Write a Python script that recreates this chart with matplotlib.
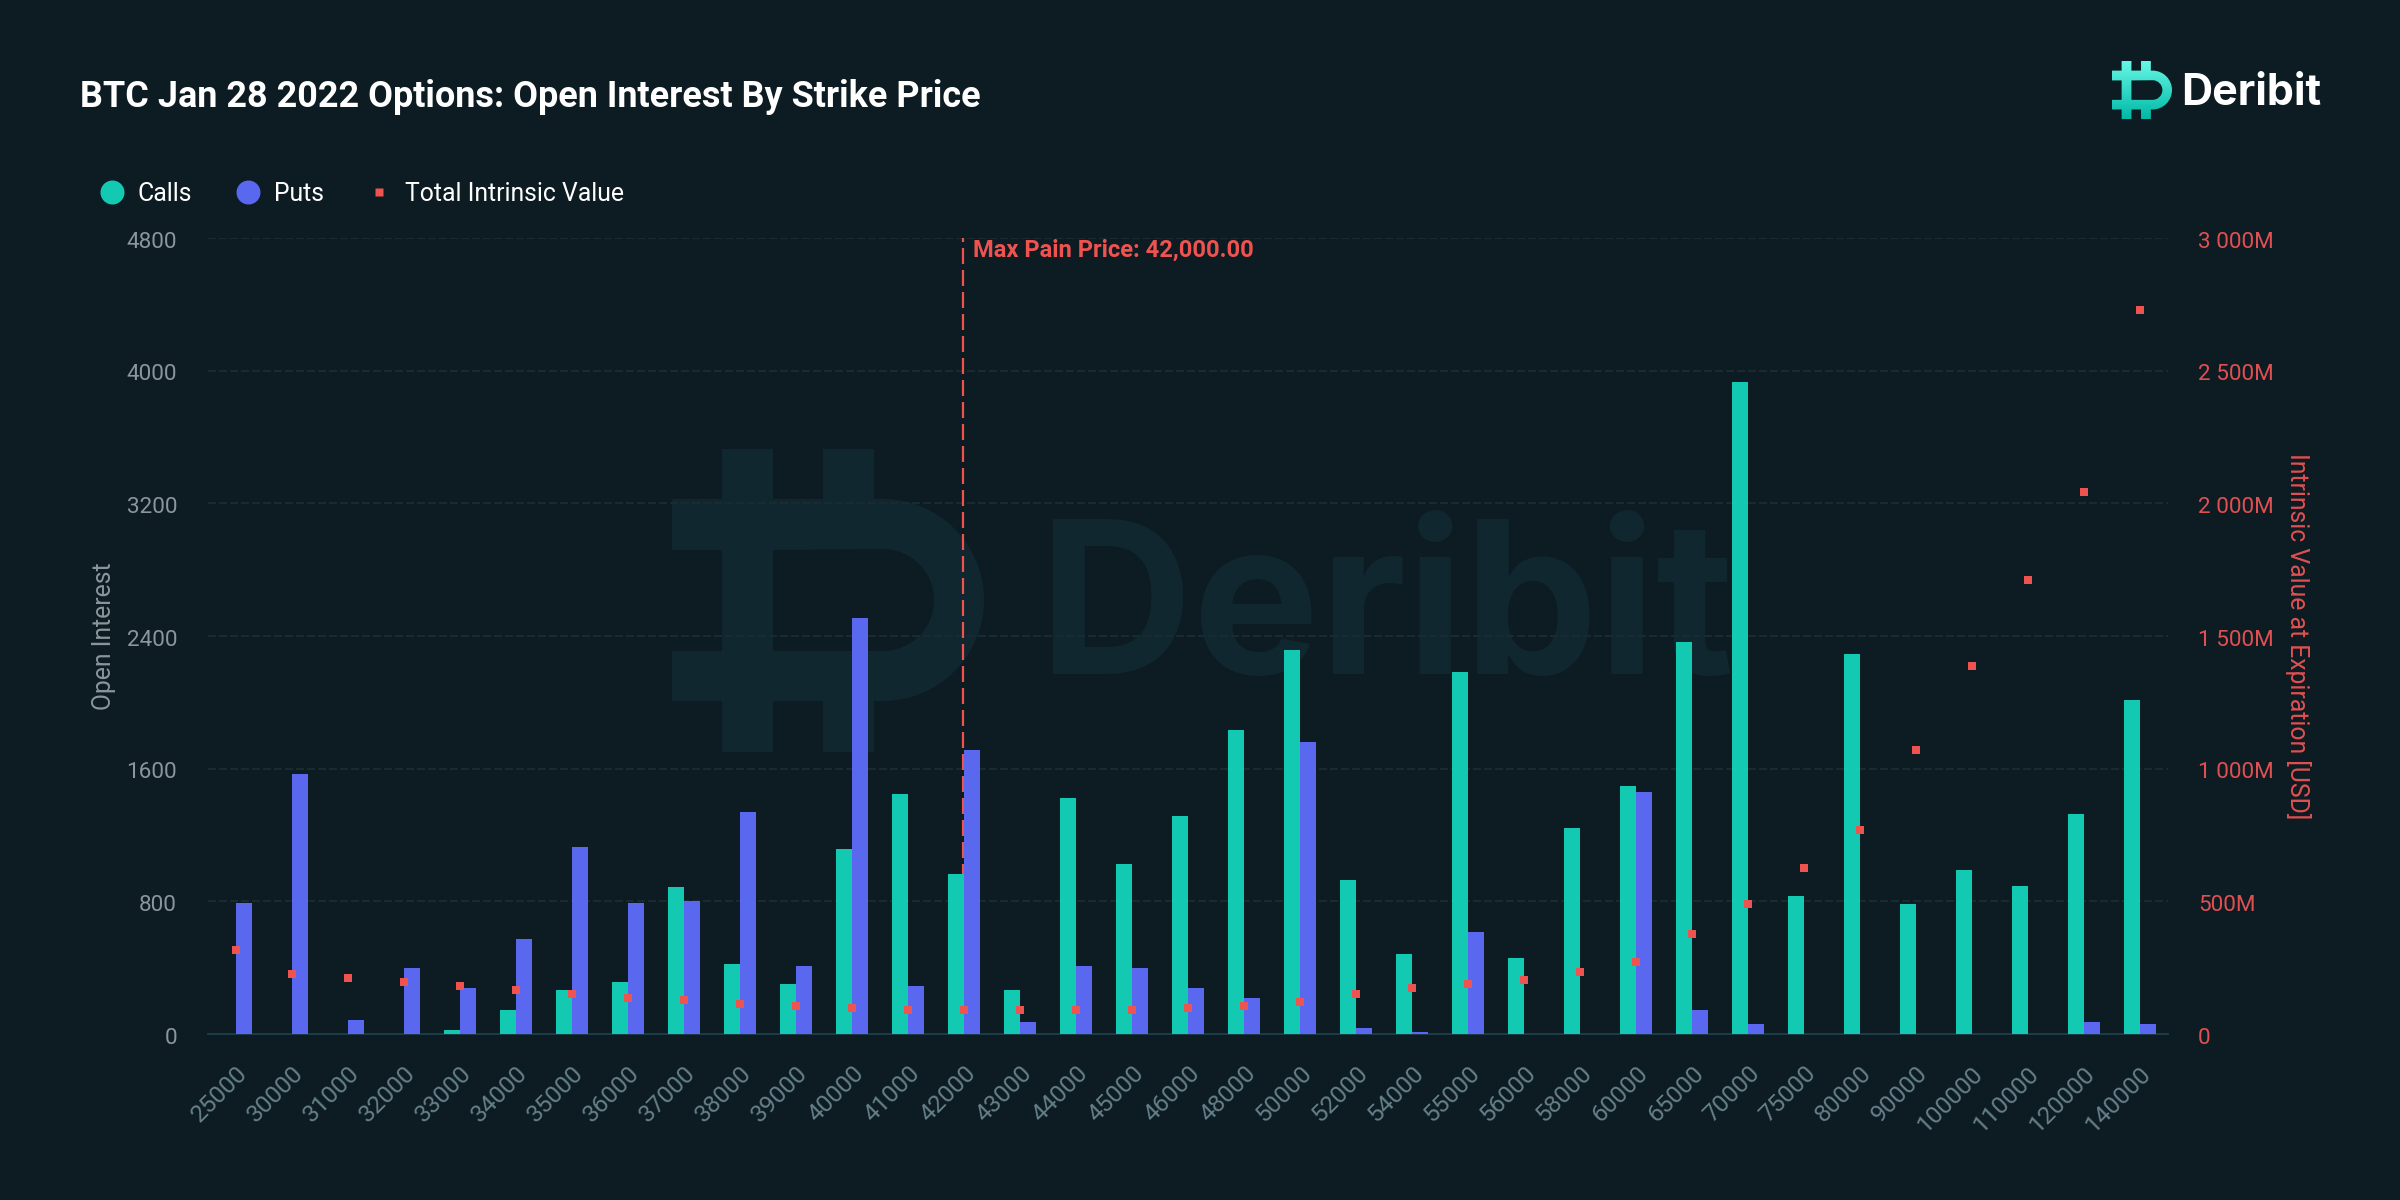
import numpy as np
import matplotlib
matplotlib.use("Agg")
import matplotlib.pyplot as plt
from matplotlib.path import Path
from matplotlib.patches import PathPatch
from matplotlib.lines import Line2D
from matplotlib.colors import LinearSegmentedColormap
from matplotlib.transforms import ScaledTranslation

strikes = ["25000","30000","31000","32000","33000","34000","35000","36000","37000","38000","39000","40000","41000","42000","43000","44000","45000","46000","48000","50000","52000","54000","55000","56000","58000","60000","65000","70000","75000","80000","90000","100000","110000","120000","140000"]
calls = [0,0,0,0,24,145,267,315,885,424,303,1117,1447,965,265,1423,1025,1315,1833,2316,929,482,2183,458,1242,1495,2364,3932,832,2291,784,989,892,1327,2014]
puts = [788,1569,85,400,279,570,1126,788,800,1338,412,2509,289,1713,72,410,398,277,217,1761,36,12,615,0,0,1459,145,60,0,0,0,0,0,72,60]
intrinsic = [317,226,211,196,181,166,151,136,128,113,106,98,90,90,90,90,90,98,105,120,151,173,188,203,234,271,377,490,626,769,1070,1387,1711,2043,2729]
oi_ticks = [0,800,1600,2400,3200,4000,4800]
iv_ticks = [0,500,1000,1500,2000,2500,3000]
iv_labels = ["0","500M","1 000M","1 500M","2 000M","2 500M","3 000M"]
max_pain_strike = "42000"

BG = "#0d1b22"; CALL = "#14c9b2"; PUT = "#5a67ef"; RED = "#ef5350"
GRID = "#1a2a31"; AXIS = "#1d3a47"; TICK = "#8a969c"; XTICK = "#66808a"; RTICK = "#e05052"; MARK = "#102730"

plt.rcParams['lines.scale_dashes'] = False
plt.rcParams['font.family'] = ['Roboto', 'DejaVu Sans']
PX = 72 / 200
W, H = 2400, 1200

fig = plt.figure(figsize=(12, 6), dpi=200, facecolor=BG)

# decoration layer in pixel coordinates
deco = fig.add_axes([0, 0, 1, 1], zorder=0)
deco.axis("off")

def logo_path(ox, oy, s):
    k = 0.5523
    def P(x, y):
        return (ox + (x - 672) * s, oy + (y - 449) * s)
    r, ri = 101, 51
    cx, cy = 883, 600
    outer = [(722,449),(773,449),(773,499),(823,499),(823,449),(874,449),(874,499),(883,499)]
    v = [P(*p) for p in outer]
    c = [Path.MOVETO] + [Path.LINETO] * 7
    for pts in ([(cx+k*r,cy-r),(cx+r,cy-k*r),(cx+r,cy)], [(cx+r,cy+k*r),(cx+k*r,cy+r),(cx,cy+r)]):
        v += [P(*p) for p in pts]; c += [Path.CURVE4] * 3
    rest = [(874,701),(874,752),(823,752),(823,701),(773,701),(773,752),(722,752),(722,701),(672,701),(672,651),(722,651),(722,550),(672,550),(672,499),(722,499),(722,449)]
    v += [P(*p) for p in rest]; c += [Path.LINETO] * (len(rest) - 1) + [Path.CLOSEPOLY]
    v += [P(773,550), P(773,651), P(883,651)]; c += [Path.MOVETO, Path.LINETO, Path.LINETO]
    for pts in ([(cx+k*ri,cy+ri),(cx+ri,cy+k*ri),(cx+ri,cy)], [(cx+ri,cy-k*ri),(cx+k*ri,cy-ri),(cx,cy-ri)]):
        v += [P(*p) for p in pts]; c += [Path.CURVE4] * 3
    v += [P(773,550)]; c += [Path.CLOSEPOLY]
    return Path(v, c)

deco.add_patch(PathPatch(logo_path(672, 449, 1.0), fc=MARK, ec="none"))
deco.text(1039, 674, "Deribit", family="Inter", weight="bold", fontsize=213 * PX, color=MARK, ha="left", va="baseline")

small = logo_path(2112, 61, 60 / 312)
grad = LinearSegmentedColormap.from_list("g", ["#66f7e6", "#00b9a6"])
im = deco.imshow(np.linspace(0, 1, 64).reshape(-1, 1), cmap=grad, extent=(2112, 2172, 119, 61), aspect="auto")
clip = PathPatch(small, transform=deco.transData, fc="none", ec="none")
deco.add_patch(clip)
im.set_clip_path(clip)
deco.text(2181, 105, "Deribit", family="Inter", weight="bold", fontsize=43 * PX, color="white", ha="left", va="baseline")
deco.set_xlim(0, W); deco.set_ylim(H, 0)

# main axes
L, R, T, B = 208, 2168, 238, 1034
ax = fig.add_axes([L / W, 1 - B / H, (R - L) / W, (B - T) / H], zorder=1)
ax.patch.set_alpha(0)
x = np.arange(len(strikes))
bw = 16 / 56
ax.bar(x - bw / 2, calls, bw, color=CALL, zorder=3, label="Calls")
ax.bar(x + bw / 2, puts, bw, color=PUT, zorder=3, label="Puts")
ax.set_xlim(-0.5, len(strikes) - 0.5)
ax.set_ylim(0, oi_ticks[-1])
ax.set_yticks(oi_ticks)
ax.set_xticks(x, strikes, rotation=45, ha="right", va="top", rotation_mode="anchor")
ax.tick_params(axis="y", length=0, pad=31 * PX, labelsize=22.5 * PX, labelcolor=TICK)
ax.tick_params(axis="x", length=0, pad=28 * PX, labelsize=24.5 * PX, labelcolor=XTICK)
ax.grid(axis="y", color=GRID, lw=2 * PX, linestyle=(0, (8 * PX, 3 * PX)))
ax.set_axisbelow(True)
for s in ("top", "left", "right"):
    ax.spines[s].set_visible(False)
ax.spines["bottom"].set_color(AXIS)
ax.spines["bottom"].set_linewidth(2 * PX)
ax.set_ylabel("Open Interest", fontsize=24.7 * PX, color=TICK, va="center")
ax.yaxis.set_label_coords((104 - L) / (R - L), 0.5)
mp = strikes.index(max_pain_strike)
ax.axvline(mp - 1 / 56, color=RED, lw=2.2 * PX, linestyle=(0, (16 * PX, 6 * PX)), zorder=2)
ax.annotate("Max Pain Price: 42,000.00", xy=(mp, 4800), xytext=(9, -1), textcoords="offset pixels",
            color=RED, fontsize=23.8 * PX, weight="bold", ha="left", va="top")

ax2 = ax.twinx()
ax2.set_zorder(2)
ax2.patch.set_alpha(0)
ax2.scatter(x, intrinsic, marker="s", s=(8 * PX) ** 2, color=RED, linewidths=0, zorder=5)
ax2.set_ylim(0, iv_ticks[-1])
ax2.set_yticks(iv_ticks, iv_labels)
ax2.tick_params(axis="y", length=0, pad=30 * PX, labelsize=22.5 * PX, labelcolor=RTICK)
for s in ax2.spines.values():
    s.set_visible(False)
ax2.set_ylabel("Intrinsic Value at Expiration [USD]", fontsize=24.8 * PX, color=RTICK, rotation=270, va="center")
ax2.yaxis.set_label_coords((2298 - L) / (R - L), 0.5)

shift = ScaledTranslation(0, -1.8 / 200, fig.dpi_scale_trans)
for lab in list(ax.get_yticklabels()) + list(ax2.get_yticklabels()):
    lab.set_transform(lab.get_transform() + shift)

# title and legend
fig.text(80 / W, 1 - 107 / H, "BTC Jan 28 2022 Options: Open Interest By Strike Price", color="white",
         fontsize=36 * PX, weight="bold", ha="left", va="baseline")
handles = [
    Line2D([], [], ls="none", marker="o", ms=24 * PX, mfc=CALL, mec="none", label="Calls"),
    Line2D([], [], ls="none", marker="o", ms=24 * PX, mfc=PUT, mec="none", label="Puts"),
    Line2D([], [], ls="none", marker="s", ms=8 * PX, mfc=RED, mec="none", label="Total Intrinsic Value"),
]
fig.legend(handles=handles, loc="center left", bbox_to_anchor=(100 / W, 1 - 194 / H), ncols=3, frameon=False,
           fontsize=24.8 * PX, labelcolor="white", handlelength=0.97, handletextpad=0.56, columnspacing=1.75,
           borderpad=0, borderaxespad=0, numpoints=1)

fig.savefig("out.png", dpi=200, facecolor=BG)
